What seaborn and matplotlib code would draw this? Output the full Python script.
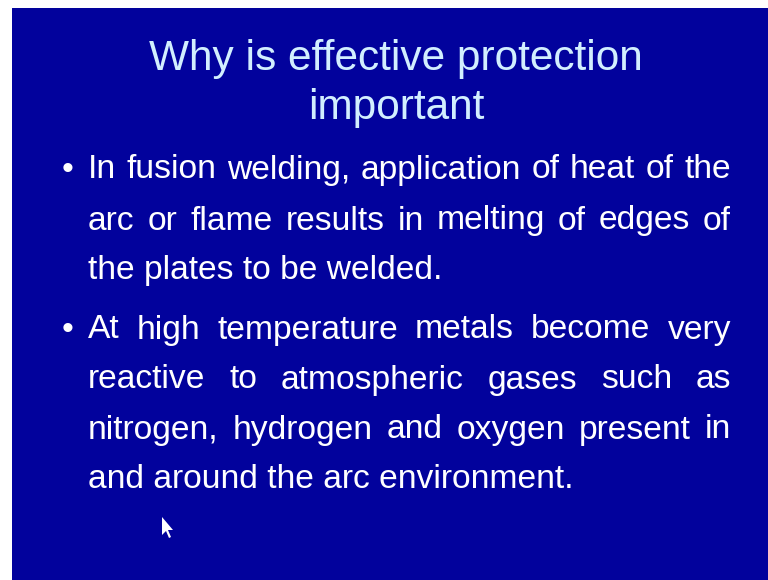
import matplotlib
matplotlib.use("Agg")
import matplotlib.pyplot as plt
import seaborn as sns

title_lines = ["Why is effective protection", "important"]
bullet1 = ["In fusion welding, application of heat of the",
           "arc or flame results in melting of edges of",
           "the plates to be welded."]
bullet2 = ["At high temperature metals become very",
           "reactive to atmospheric gases such as",
           "nitrogen, hydrogen and oxygen present in",
           "and around the arc environment."]

sns.set_theme(style="white")
plt.rcParams['font.family'] = ['Liberation Sans', 'DejaVu Sans']

W, H = 768, 580
bg = "#02029c"
fig = plt.figure(figsize=(7.68, 5.8), dpi=100)
fig.patch.set_facecolor("white")
ax = fig.add_axes([12 / W, 0, 1 - 12 / W, 1 - 8 / H])
ax.set_facecolor(bg)
ax.set_xlim(12, W)
ax.set_ylim(H, 8)
ax.set_axis_off()
ax.add_patch(plt.Rectangle((12, 8), W, H, color=bg, zorder=0))

title_col = "#d2efff"
for i, t in enumerate(title_lines):
    ax.text(396, 59 + 49 * i, t, fontsize=30.5, color=title_col,
            ha="center", va="center")

renderer = fig.canvas.get_renderer()
left, right = 88, 731
fs = 24.2


def draw_line(text, y, justify):
    words = text.split(" ")
    if not justify:
        ax.text(left, y, text, fontsize=fs, color="white", ha="left", va="center")
        return
    objs = [ax.text(left, y, w, fontsize=fs, color="white", ha="left", va="center")
            for w in words]
    inv = ax.transData.inverted()
    widths = []
    for o in objs:
        bb = o.get_window_extent(renderer)
        x0 = inv.transform((bb.x0, bb.y0))[0]
        x1 = inv.transform((bb.x1, bb.y0))[0]
        widths.append(x1 - x0)
    gap = (right - left - sum(widths)) / (len(words) - 1)
    x = left
    for o, w in zip(objs, widths):
        o.set_x(x)
        x += w + gap


ys1 = [170, 221, 270]
ys2 = [330, 380, 430, 480]
for lines, ys in [(bullet1, ys1), (bullet2, ys2)]:
    ax.text(68, ys[0], "\u2022", fontsize=fs, color="white", ha="center", va="center")
    for k, (ln, y) in enumerate(zip(lines, ys)):
        draw_line(ln, y, k < len(lines) - 1)

# mouse pointer
ax.fill([162, 162, 166, 169, 171, 168, 173],
        [517, 535, 531, 538, 537, 530, 530], color="white", lw=0, zorder=5)

fig.savefig("out.png", dpi=100, facecolor=fig.get_facecolor())
